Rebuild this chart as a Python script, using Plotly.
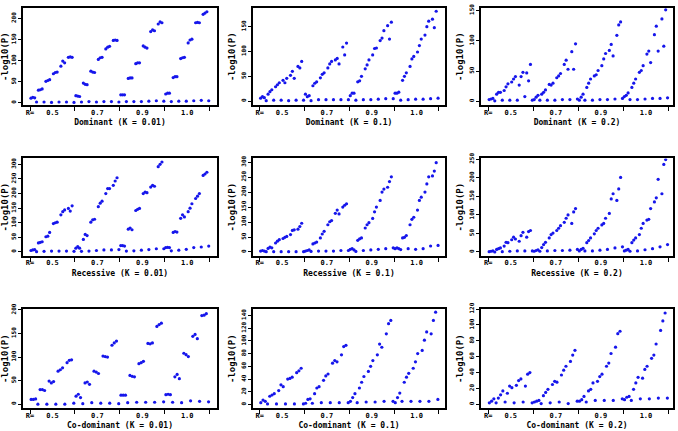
import plotly.graph_objects as go

# ---------------- data ----------------
r_labels = ["R=", "0.5", "0.7", "0.9", "1.0"]

# rising series: per R block, groups of 3 values
dom_001 = [[11,13,12, 30,31,33, 51,53,55, 69,72,73, 87,99,95, 108,109,108],
           [17,16,15, 47,44,43, 75,73,72, 103,107,108, 128,132,134, 148,149,148],
           [19,19,19, 58,59,59, 93,95,95, 135,132,130, 169,173,171, 187,192,190],
           [21,23,23, 60,62,62, 105,107,108, 142,149,151, 190,191,190, 210,213,216]]
dom_001_base = [2,2,1,2,2,1, 2,3,2,3,3,2, 3,3,3,4,5,4, 3,4,4,5,6,5]

dom_01 = [[6,9,7, 14,19,23, 29,33,37, 42,37,46, 52,60,46, 70,67,80],
          [14,9,11, 31,36,39, 47,54,57, 67,75,80, 83,86,75, 109,93,117],
          [11,16,16, 39,41,50, 65,73,83, 93,106,107, 122,127,142, 152,125,159],
          [16,16,18, 42,50,57, 70,85,90, 99,112,125, 133,150,161, 165,148,181]]
dom_01_base = [1,2,2,1,2,2, 1,3,3,3,3,3, 2,3,3,4,5,5, 2,3,4,4,5,6]

dom_02 = [[3,4,5, 12,15,15, 18,24,29, 32,37,41, 27,41,48, 47,34,61],
          [3,7,10, 12,15,19, 28,27,30, 39,42,46, 61,68,53, 82,53,95],
          [2,7,12, 23,30,37, 42,44,51, 59,70,79, 84,94,75, 109,126,131],
          [8,10,14, 23,30,37, 48,51,59, 78,83,64, 110,124,83, 136,91,151]]
dom_02_base = [1,2,2,2,8,2, 2,2,2,3,3,4, 2,2,3,3,4,5, 3,3,4,5,5,6]

rec_001 = [[5,7,8, 31,33,35, 52,54,67, 97,100,102, 127,138,144, 149,140,158],
           [13,18,13, 43,60,56, 102,110,112, 155,167,174, 200,217,217, 228,243,254],
           [22,22,20, 78,82,76, 142,146,149, 200,205,203, 222,228,225, 292,300,308],
           [15,16,15, 67,70,68, 115,127,120, 138,150,165, 183,191,200, 262,267,273]]
rec_001_base = [1,2,3,3,3,2, 2,3,5,7,7,8, 3,4,6,8,11,11, 4,6,9,15,17,20]

rec_01 = [[3,5,3, 12,16,14, 30,36,41, 45,49,52, 58,72,74, 76,85,96],
          [3,5,7, 27,30,33, 47,60,69, 91,101,105, 129,140,127, 150,156,161],
          [9,11,7, 39,44,47, 80,91,98, 112,134,150, 172,200,210, 216,235,251],
          [11,14,11, 47,49,55, 91,109,116, 140,172,183, 200,227,251, 254,270,298]]
rec_01_base = [1,1,1,1,1,1, 2,3,3,3,5,5, 2,5,7,9,11,14, 8,11,9,11,20,22]

rec_02 = [[1,2,3, 7,9,11, 16,26,25, 33,40,35, 29,44,53, 40,55,58],
          [2,4,6, 12,20,26, 38,47,51, 58,64,71, 80,91,100, 77,108,117],
          [3,7,10, 25,31,38, 49,58,64, 73,77,91, 104,143,157, 139,170,201],
          [3,5,7, 25,32,38, 47,64,77, 86,88,117, 135,146,196, 157,236,249]]
rec_02_base = [0,1,2,3,3,3, 2,3,4,4,5,7, 3,3,5,7,11,14, 2,3,6,9,14,20]

cod_001 = [[10,10,11, 31,31,29, 49,45,48, 70,73,77, 88,93,94],
           [17,21,14, 45,47,42, 70,68,65, 102,101,100, 125,130,134],
           [19,19,19, 61,59,58, 86,88,91, 129,128,130, 165,169,172],
           [20,21,20, 58,63,54, 108,105,101, 144,148,139, 188,189,192]]
cod_001_base = [0,0,0,0,2, 1,3,2,2,1, 3,4,4,4,5, 4,3,7,6,5]

cod_01 = [[3,7,5, 13,15,17, 22,31,28, 40,41,43, 50,53,57],
          [2,8,9, 17,26,28, 38,45,48, 65,69,67, 78,91,93],
          [5,11,17, 26,35,44, 52,60,69, 78,95,90, 111,127,132],
          [3,11,18, 35,43,49, 57,67,80, 85,101,114, 111,132,145]]
cod_01_base = [1,1,1,1,1, 2,3,3,3,3, 3,4,4,5,5, 5,5,5,5,8]

cod_02 = [[2,4,7, 8,12,17, 14,23,21, 24,30,32, 23,38,40],
          [3,4,5, 11,15,19, 25,29,28, 37,43,48, 54,62,68],
          [4,6,10, 17,19,27, 29,35,38, 48,52,64, 72,89,92],
          [6,9,10, 19,27,34, 33,44,48, 58,62,76, 93,105,115]]
cod_02_base = [2,3,2,3,2, 1,2,3,1,4, 3,5,5,5,7, 5,7,7,8,8]

titles = ["Dominant (K = 0.01)", "Dominant (K = 0.1)", "Dominant (K = 0.2)",
          "Recessive (K = 0.01)", "Recessive (K = 0.1)", "Recessive (K = 0.2)",
          "Co-dominant (K = 0.01)", "Co-dominant (K = 0.1)", "Co-dominant (K = 0.2)"]

panels = [(dom_001, dom_001_base), (dom_01, dom_01_base), (dom_02, dom_02_base),
          (rec_001, rec_001_base), (rec_01, rec_01_base), (rec_02, rec_02_base),
          (cod_001, cod_001_base), (cod_01, cod_01_base), (cod_02, cod_02_base)]

y_ranges = [(-6, 225), (-8.5, 187.6), (-6.5, 154),
            (-13.5, 320), (-13, 312), (-10.5, 252),
            (-9, 202), (-6, 150), (-5, 120)]
y_dticks = [50, 50, 50, 50, 50, 50, 50, 20, 20]

# ---------------- layout geometry ----------------
W, H = 678, 431
cols = [(23, 217), (253, 445), (481, 673)]
rows = [(1, 100), (154, 253), (307, 408)]
x_ranges = [(-0.156, 4.163), (-0.149, 4.134), (-0.16, 4.1)]

BLUE = "rgb(22,22,235)"
FONT = "DejaVu Sans Mono"

fig = go.Figure()
layout = dict(width=W, height=H, margin=dict(l=0, r=0, t=0, b=0),
              paper_bgcolor="white", plot_bgcolor="white", showlegend=False)

for p, (rise, base) in enumerate(panels):
    r, c = divmod(p, 3)
    n_groups = len(rise[0]) // 3
    per_block = 4 * n_groups
    xs, ys, bx = [], [], []
    for b, vals in enumerate(rise):
        for j, v in enumerate(vals):
            g, k = divmod(j, 3)
            xs.append(b + (g * 4 + k + 0.5) / per_block)
            ys.append(v)
    for i, v in enumerate(base):
        b, rem = divmod(i, n_groups)
        bx.append(b + (rem * 4 + 3 + 0.5) / per_block)
    xa = "x" if p == 0 else f"x{p+1}"
    ya = "y" if p == 0 else f"y{p+1}"
    fig.add_trace(go.Scatter(x=xs + bx, y=ys + list(base), mode="markers",
                             marker=dict(size=3.2, color=BLUE, line=dict(width=0)),
                             xaxis=xa, yaxis=ya, hoverinfo="skip"))
    x0, x1 = cols[c]
    y0, y1 = rows[r]
    xkey = "xaxis" if p == 0 else f"xaxis{p+1}"
    ykey = "yaxis" if p == 0 else f"yaxis{p+1}"
    layout[xkey] = dict(
        domain=[x0 / W, x1 / W], anchor=ya, range=list(x_ranges[c]),
        showgrid=False, zeroline=False, showline=True, mirror=True,
        linecolor="black", linewidth=1.5,
        tickmode="array", tickvals=[0, 0.5, 1.5, 2.5, 3.5], ticktext=r_labels,
        ticks="", ticklen=0, ticklabelstandoff=-1,
        tickfont=dict(family=FONT, size=7, color="black", weight="bold"),
        minor=dict(tickmode="array", tickvals=[0, 1, 2, 3, 4], ticks="outside",
                   ticklen=4, tickwidth=1.2, tickcolor="black", showgrid=False),
        title=dict(text=titles[p], standoff=4,
                   font=dict(family=FONT, size=8, color="black", weight="bold")),
        fixedrange=True)
    layout[ykey] = dict(
        domain=[1 - y1 / H, 1 - y0 / H], anchor=xa, range=list(y_ranges[p]),
        showgrid=False, zeroline=False, showline=True, mirror=True,
        linecolor="black", linewidth=1.5,
        tickmode="linear", tick0=0, dtick=y_dticks[p],
        ticks="outside", ticklen=3, tickwidth=1.2, tickcolor="black",
        tickangle=-90, tickfont=dict(family=FONT, size=6, color="black", weight="bold"),
        title=dict(text="-log10(P)", standoff=3,
                   font=dict(family=FONT, size=9, color="black", weight="bold")),
        fixedrange=True)

fig.update_layout(**layout)
fig.write_html("out.html", config={"displayModeBar": False},
               post_script="document.body.style.margin='0px';")
